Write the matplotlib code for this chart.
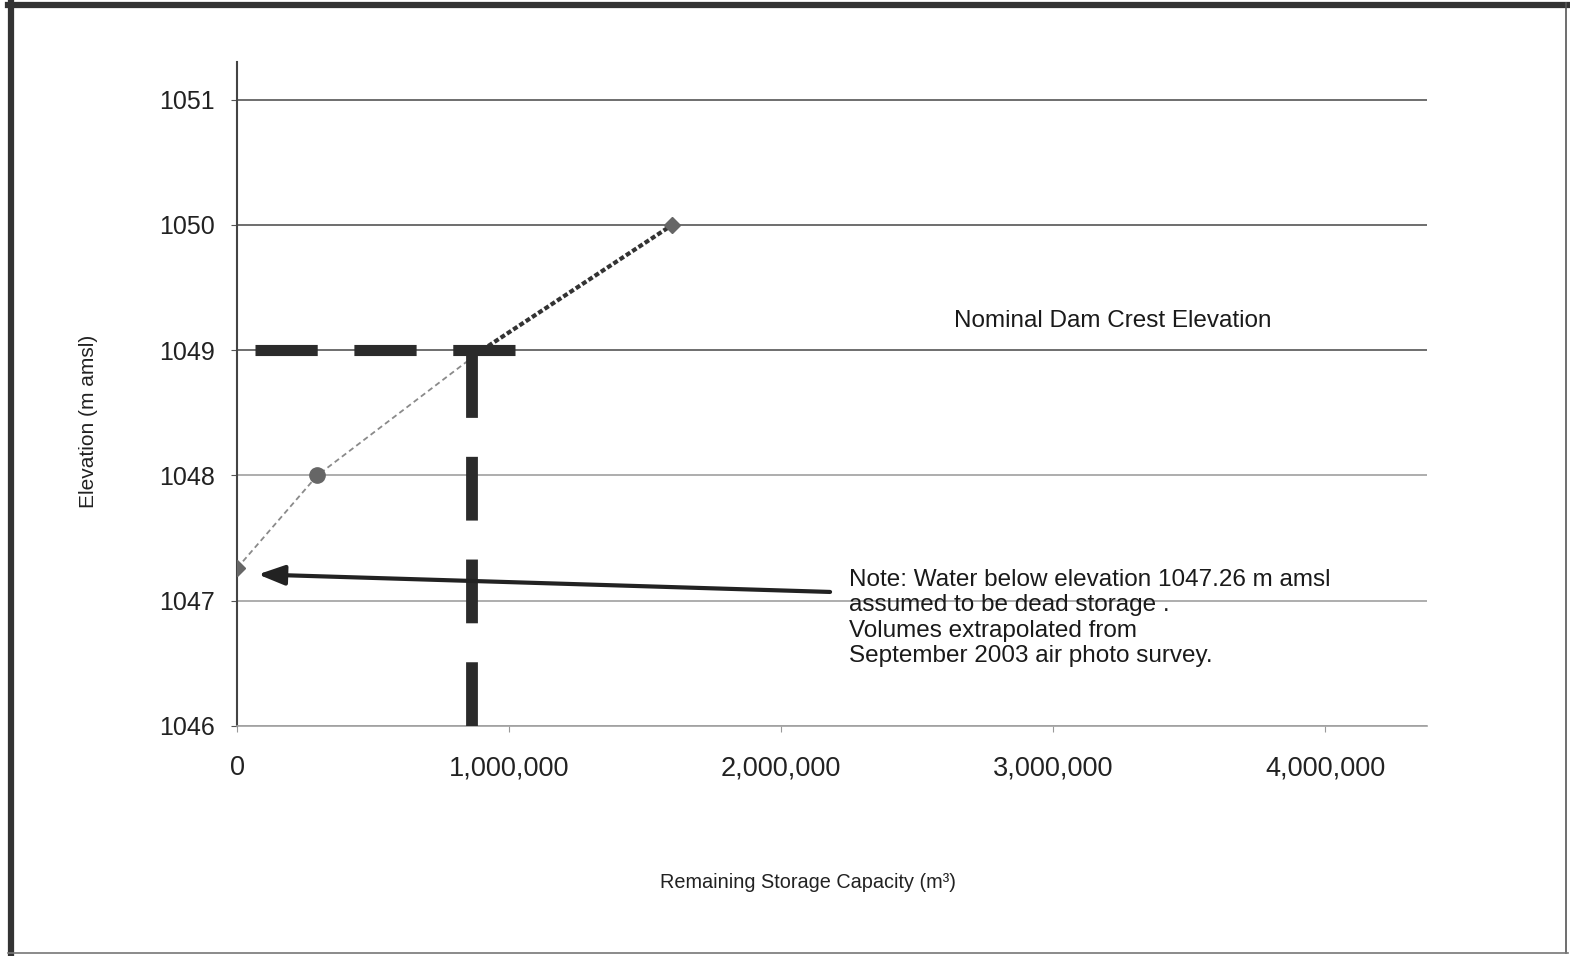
import numpy as np
import matplotlib.pyplot as plt
from matplotlib.lines import Line2D
from matplotlib.ticker import FuncFormatter

plt.rcParams['font.family'] = ['Liberation Sans', 'DejaVu Sans']

# storage curve (remaining capacity m3 vs elevation m amsl)
capacity = [0, 295000, 900000, 1600000]
elevation = [1047.26, 1048, 1049, 1050]

dead_storage_elev = 1047.26
crest_elev = 1049
crest_capacity = 864000

x_ticks = [0, 1000000, 2000000, 3000000, 4000000]
y_ticks = [1046, 1047, 1048, 1049, 1050, 1051]

fig = plt.figure(figsize=(15.7, 9.56), dpi=100)
ax = fig.add_axes([0.151, 0.2406, 0.758, 0.6945])

ax.set_xlim(0, 4375000)
ax.set_ylim(1046, 1051.3)

for yv in y_ticks:
    c = '#555555' if yv >= 1049 else '#a0a0a0'
    ax.axhline(yv, color=c, lw=1.2, zorder=1)

# curve: lower part thin grey dotted, upper part darker dotted
ax.plot(capacity[:3], elevation[:3], color='#8a8a8a', lw=1.3, ls=(0, (3, 2)), zorder=3)
ax.plot(capacity[2:], elevation[2:], color='#333333', lw=3, ls=(0, (1.2, 0.6)), zorder=3)
ax.plot([capacity[0], capacity[3]], [elevation[0], elevation[3]], ls='none', marker='D',
        ms=8, color='#666666', zorder=4)
ax.plot([capacity[1]], [elevation[1]], ls='none', marker='o', ms=11, color='#666666', zorder=4)

# heavy dashed lines at the crest
ax.plot([66000, 1022000], [crest_elev, crest_elev], color='#2b2b2b', lw=8,
        ls=(0, (5.6, 3.3)), solid_capstyle='butt', dash_capstyle='butt', zorder=5)
ax.plot([crest_capacity, crest_capacity], [1046, crest_elev - 0.05], color='#2b2b2b', lw=8.5,
        ls=(0, (5.4, 3.3)), dash_capstyle='butt', zorder=5)

ax.annotate('', xy=(77000, 1047.21), xytext=(2180000, 1047.07),
            arrowprops=dict(arrowstyle='-|>,head_length=1.6,head_width=0.6', color='#222222',
                            lw=3, shrinkA=0, shrinkB=0), zorder=6)

ax.text(2636000, 1049.23, 'Nominal Dam Crest Elevation', fontsize=17.5, color='#1a1a1a',
        ha='left', va='center')
ax.text(2250000, 1047.255, 'Note: Water below elevation 1047.26 m amsl\nassumed to be dead storage .\n'
        'Volumes extrapolated from\nSeptember 2003 air photo survey.',
        fontsize=17.5, color='#1a1a1a', ha='left', va='top', linespacing=1.21)

ax.set_xticks(x_ticks)
ax.set_yticks(y_ticks)
ax.xaxis.set_major_formatter(FuncFormatter(lambda v, p: f'{int(v):,}'))
ax.tick_params(axis='x', labelsize=19.5, length=4, color='#999999', pad=17, labelcolor='#222222')
ax.tick_params(axis='y', labelsize=18, length=4, color='#555555', pad=12, labelcolor='#222222')

for s in ['top', 'right']:
    ax.spines[s].set_visible(False)
ax.spines['bottom'].set_color('#a0a0a0')
ax.spines['bottom'].set_linewidth(1.2)
ax.spines['left'].set_color('#444444')
ax.spines['left'].set_linewidth(1.5)

fig.text(0.5147, 1 - 883 / 956, 'Remaining Storage Capacity (m³)', fontsize=14.3, ha='center',
         va='center', color='#222222')
fig.text(89 / 1570, 1 - 421 / 956, 'Elevation (m amsl)', fontsize=15, ha='center',
         va='center', rotation=90, color='#222222')

# scanned page border
fig.add_artist(Line2D([11 / 1570, 11 / 1570], [0.003, 0.997], color='#333333', lw=4.5))
fig.add_artist(Line2D([0.005, 0.999], [1 - 5 / 956, 1 - 5 / 956], color='#333333', lw=4.5))
fig.add_artist(Line2D([1566 / 1570, 1566 / 1570], [0.003, 0.997], color='#555555', lw=1.2))
fig.add_artist(Line2D([0.005, 0.999], [1 - 953 / 956, 1 - 953 / 956], color='#777777', lw=1.2))

fig.savefig('out.png', dpi=100)
